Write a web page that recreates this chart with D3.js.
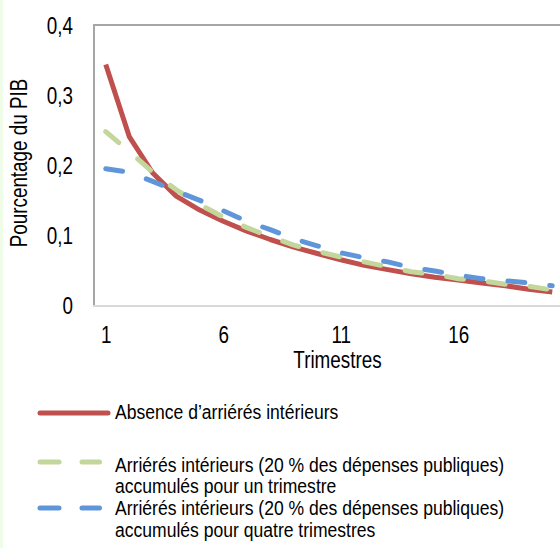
<!DOCTYPE html>
<html>
<head>
<meta charset="utf-8">
<script src="https://cdn.jsdelivr.net/npm/d3@7"></script>
<style>
  html, body { margin: 0; padding: 0; background: #ffffff; }
  svg { display: block; }
  text { font-family: "Liberation Sans", Arial, sans-serif; fill: #000; }
</style>
</head>
<body>
<script>
// Quarters after the shock
const quarters = d3.range(1, 21);
const xTickValues = [1, 6, 11, 16];
const yTickValues = [0, 0.1, 0.2, 0.3, 0.4];

// Response of the series, percent of GDP
const noArrears = [0.345, 0.242, 0.190, 0.157, 0.137, 0.121, 0.107, 0.095, 0.084, 0.075,
                   0.066, 0.058, 0.052, 0.046, 0.041, 0.037, 0.033, 0.029, 0.024, 0.020];
const arrearsOneQuarter = [0.249, 0.221, 0.191, 0.166, 0.145, 0.127, 0.112, 0.099, 0.087, 0.078,
                           0.070, 0.063, 0.056, 0.049, 0.045, 0.039, 0.036, 0.031, 0.028, 0.023];
const arrearsFourQuarters = [0.196, 0.191, 0.178, 0.164, 0.151, 0.136, 0.121, 0.109, 0.096, 0.086,
                             0.076, 0.069, 0.063, 0.055, 0.050, 0.044, 0.039, 0.036, 0.033, 0.029];

const seriesNames = [
  ["Absence d\u2019arriérés intérieurs"],
  ["Arriérés intérieurs (20 % des dépenses publiques)", "accumulés pour un trimestre"],
  ["Arriérés intérieurs (20 % des dépenses publiques)", "accumulés pour quatre trimestres"]
];
const seriesColors = ["#c0504d", "#c3d69b", "#5f96d9"];
const seriesValues = [noArrears, arrearsOneQuarter, arrearsFourQuarters];
const seriesDashed = [false, true, true];

const width = 560, height = 548;
const narrow = 0.82;        // horizontal squeeze giving a condensed face
const svg = d3.select("body").append("svg")
  .attr("width", width).attr("height", height);

// thin pale strip along the left edge
svg.append("rect").attr("x", 0).attr("y", 0).attr("width", 3).attr("height", height)
  .attr("fill", "#effde8");

const plot = { left: 94, top: 25, right: 564, bottom: 306 };

const x = d3.scalePoint().domain(quarters).range([plot.left, plot.right]).padding(0.5);
const y = d3.scaleLinear().domain([0, 0.4]).range([plot.bottom, plot.top + 1]);

const fmt = v => v === 0 ? "0" : d3.format(".1f")(v).replace(".", ",");

// frame: top and left borders
svg.append("line").attr("x1", plot.left).attr("x2", width).attr("y1", plot.top).attr("y2", plot.top)
  .attr("stroke", "#a6a6a6").attr("stroke-width", 2);
svg.append("line").attr("x1", plot.left).attr("x2", plot.left).attr("y1", plot.top - 1).attr("y2", plot.bottom)
  .attr("stroke", "#a6a6a6").attr("stroke-width", 2);

// x axis
const xAxis = d3.axisBottom(x).tickValues(xTickValues).tickSize(0).tickPadding(21);
const gx = svg.append("g").attr("transform", `translate(0,${plot.bottom})`).call(xAxis);
gx.select(".domain").remove();
gx.selectAll("text").attr("font-size", 23).attr("font-family", null)
  .attr("transform", `scale(${narrow},1)`);
svg.append("line").attr("x1", plot.left - 1).attr("x2", width).attr("y1", plot.bottom).attr("y2", plot.bottom)
  .attr("stroke", "#d9d9d9").attr("stroke-width", 2);

// y axis
const yAxis = d3.axisLeft(y).tickValues(yTickValues).tickSize(0).tickFormat(fmt);
const gy = svg.append("g").attr("transform", `translate(${plot.left},0)`).call(yAxis);
gy.select(".domain").remove();
gy.selectAll("text").attr("font-size", 23).attr("font-family", null)
  .attr("x", 0).attr("transform", `translate(-21,0) scale(${narrow},1)`);

// axis titles
svg.append("text").attr("transform", `translate(337.5,368) scale(${narrow},1)`)
  .attr("text-anchor", "middle").attr("font-size", 23).text("Trimestres");
svg.append("text").attr("transform", `translate(27,163) rotate(-90) scale(${narrow},1)`)
  .attr("text-anchor", "middle").attr("font-size", 23).text("Pourcentage du PIB");

// series lines
const line = d3.line().x((d, i) => x(quarters[i])).y(d => y(d));
seriesValues.forEach((vals, k) => {
  svg.append("path").datum(vals)
    .attr("d", line)
    .attr("fill", "none")
    .attr("stroke", seriesColors[k])
    .attr("stroke-width", 5)
    .attr("stroke-linecap", seriesDashed[k] ? "round" : "butt")
    .attr("stroke-linejoin", "round")
    .attr("stroke-dasharray", seriesDashed[k] ? "17,25" : null);
});

// legend
const legendY = [413, 462, 508];
const legendTextY = [419, 471.5, 515];
seriesNames.forEach((lines, k) => {
  const g = svg.append("g");
  const segs = seriesDashed[k] ? [[40, 59], [82, 99.5]] : [[40, 108]];
  segs.forEach(([a, b]) => {
    g.append("line").attr("x1", a).attr("x2", b)
      .attr("y1", legendY[k]).attr("y2", legendY[k])
      .attr("stroke", seriesColors[k]).attr("stroke-width", 5)
      .attr("stroke-linecap", "round");
  });
  lines.forEach((t, j) => {
    g.append("text").attr("transform", `translate(115,${legendTextY[k] + j * 21.6}) scale(0.836,1)`)
      .attr("font-size", 21).text(t);
  });
});
</script>
</body>
</html>
